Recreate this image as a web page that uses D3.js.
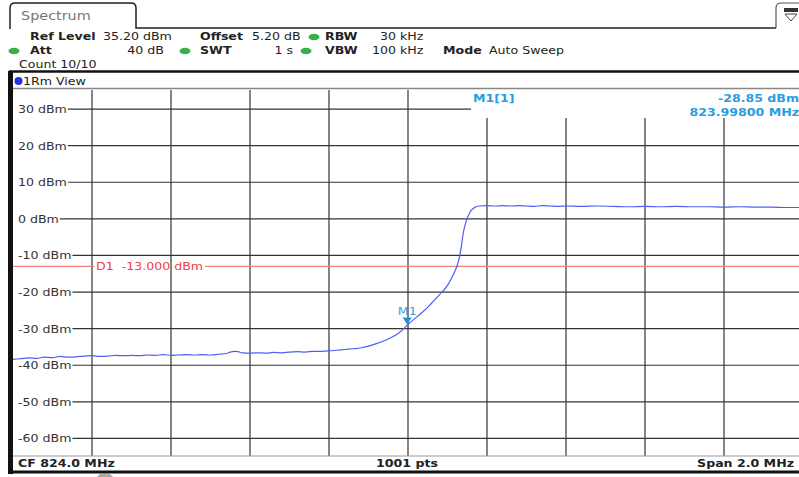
<!DOCTYPE html>
<html><head><meta charset="utf-8">
<script src="https://cdn.jsdelivr.net/npm/d3@7"></script>
<style>
html,body{margin:0;padding:0;background:#fff;overflow:hidden}
text{font-family:"DejaVu Sans",Verdana,sans-serif;white-space:pre}
</style></head>
<body>
<svg id="c" width="799" height="477"></svg>
<script>
// ---- data ----
const yTicks = [30, 20, 10, 0, -10, -20, -30, -40, -50, -60];
const freqMHz = [823.00,823.02,823.04,823.06,823.08,823.10,823.12,823.14,823.16,823.18,823.20,823.22,823.24,823.26,823.28,823.30,823.32,823.34,823.36,823.38,823.40,823.42,823.44,823.46,823.48,823.50,823.52,823.54,823.55,823.56,823.57,823.58,823.60,823.62,823.64,823.66,823.68,823.70,823.72,823.74,823.76,823.78,823.80,823.82,823.84,823.86,823.88,823.90,823.92,823.94,823.96,823.98,824.00,824.02,824.04,824.06,824.08,824.10,824.11,824.12,824.125,824.13,824.135,824.14,824.145,824.15,824.155,824.16,824.17,824.18,824.20,824.22,824.24,824.26,824.28,824.30,824.32,824.34,824.36,824.38,824.40,824.44,824.48,824.52,824.56,824.60,824.64,824.68,824.72,824.76,824.80,824.84,824.88,824.92,824.96,825.00];
const levelDbm = [-38.4,-38.2,-38.0,-38.1,-37.8,-37.9,-37.6,-37.8,-37.7,-37.5,-37.4,-37.6,-37.5,-37.3,-37.4,-37.3,-37.4,-37.2,-37.3,-37.1,-37.3,-37.2,-37.1,-37.2,-37.1,-37.2,-37.0,-36.8,-36.4,-36.2,-36.3,-36.6,-36.7,-36.6,-36.7,-36.5,-36.6,-36.4,-36.3,-36.4,-36.2,-36.2,-36.1,-35.9,-35.7,-35.5,-35.3,-34.8,-34.1,-33.3,-32.3,-30.9,-28.85,-27.0,-25.2,-23.0,-20.7,-18.2,-16.3,-14.0,-12.6,-10.6,-7.6,-3.8,-1.5,0.2,1.4,2.3,3.2,3.5,3.6,3.5,3.6,3.5,3.6,3.5,3.4,3.6,3.5,3.4,3.5,3.4,3.5,3.4,3.3,3.4,3.3,3.4,3.3,3.3,3.2,3.3,3.2,3.2,3.1,3.1];
const markerFreq = 823.998, markerLevel = -28.85;
const displayLine = -13.0;
const refLevel = 35.2, bottomLevel = -64.8;
const startF = 823.0, stopF = 825.0;

const svg = d3.select("#c");
const x = d3.scaleLinear().domain([startF, stopF]).range([13, 803]);
const y = d3.scaleLinear().domain([bottomLevel, refLevel]).range([456, 90]);
const SX = 1.2; // horizontal stretch of the instrument font

function txt(g, s, px, py, opt={}) {
  const t = g.append("text")
    .attr("transform", `translate(${px},${py}) scale(${SX},1)`)
    .attr("font-size", opt.size || 10.5)
    .attr("font-weight", opt.bold ? "bold" : "normal")
    .attr("fill", opt.fill || "#222")
    .attr("text-anchor", opt.anchor || "start")
    .text(s);
  return t;
}
function dot(cx, cy) {
  svg.append("ellipse").attr("cx", cx).attr("cy", cy).attr("rx", 5.5).attr("ry", 3.2).attr("fill", "#3cb048");
}

// ---- header ----
svg.append("path").attr("d", "M10,29 L10,8 Q10,3 15,3 L131,3 Q136,3 136,8 L136,28 L776,28")
  .attr("fill", "none").attr("stroke", "#222").attr("stroke-width", 1.5);
svg.append("path").attr("d", "M776,28 L776,8 Q776,3 781,3 L800,3")
  .attr("fill", "none").attr("stroke", "#555").attr("stroke-width", 1.2);
txt(svg, "Spectrum", 21, 20, {size: 12, fill: "#777"});
// icon
svg.append("rect").attr("x", 784).attr("y", 8).attr("width", 14).attr("height", 4).attr("fill", "#333");
svg.append("path").attr("d", "M785,14 L797,14 L791,21 Z").attr("fill", "none").attr("stroke", "#445").attr("stroke-width", 1);

txt(svg, "Ref Level", 30, 40, {bold: true});
txt(svg, "35.20 dBm", 103, 40);
txt(svg, "Offset", 200, 40, {bold: true});
txt(svg, "5.20 dB", 252, 40);
dot(314, 37);
txt(svg, "RBW", 325, 40, {bold: true});
txt(svg, "30 kHz", 380, 40);

dot(14, 51);
txt(svg, "Att", 30, 54, {bold: true});
txt(svg, "40 dB", 164, 54, {anchor: "end"});
dot(185, 51);
txt(svg, "SWT", 200, 54, {bold: true});
txt(svg, "1 s", 293, 54, {anchor: "end"});
dot(306, 51);
txt(svg, "VBW", 325, 54, {bold: true});
txt(svg, "100 kHz", 372, 54);
txt(svg, "Mode", 443, 54, {bold: true});
txt(svg, "Auto Sweep", 489, 54);

txt(svg, "Count 10/10", 19, 68);

svg.append("line").attr("x1", 9).attr("x2", 799).attr("y1", 71.5).attr("y2", 71.5).attr("stroke", "#111").attr("stroke-width", 2.5);
svg.append("rect").attr("x", 8).attr("y", 71).attr("width", 5).attr("height", 403).attr("fill", "#111");
svg.append("line").attr("x1", 13).attr("x2", 799).attr("y1", 88.5).attr("y2", 88.5).attr("stroke", "#888").attr("stroke-width", 1.5);
svg.append("circle").attr("cx", 18.5).attr("cy", 81).attr("r", 4).attr("fill", "#2233dd");
txt(svg, "1Rm View", 23, 85, {size: 10.5});

// ---- grid ----
const grid = svg.append("g");
const vTicks = d3.range(1, 10).map(i => startF + i * (stopF - startF) / 10);
grid.selectAll("line.v").data(vTicks).join("line")
  .attr("x1", d => x(d)).attr("x2", d => x(d))
  .attr("y1", d => x(d) > 470 ? 118 : 90).attr("y2", 456)
  .attr("stroke", "#333").attr("stroke-width", 1.2);

// y axis with labels
const yAxisG = svg.append("g");
yTicks.forEach(v => {
  const t = txt(yAxisG, v + " dBm", 18, y(v) + 4, {size: 10.5, fill: "#333"});
  const w = t.node().getComputedTextLength() * SX;
  yAxisG.append("line").attr("x1", 18 + w + 1).attr("x2", v === 30 ? 471 : 803)
    .attr("y1", y(v)).attr("y2", y(v)).attr("stroke", "#333").attr("stroke-width", 1.2);
});
// plot bottom
svg.append("line").attr("x1", 13).attr("x2", 803).attr("y1", 456).attr("y2", 456).attr("stroke", "#999");

// display line D1
const d1y = y(displayLine);
svg.append("line").attr("x1", 13).attr("x2", 94).attr("y1", d1y).attr("y2", d1y).attr("stroke", "#f08080").attr("stroke-width", 1.3);
const d1t = txt(svg, "D1  -13.000 dBm", 96, d1y + 4, {fill: "#f04040", size: 10.5});
const d1w = d1t.node().getComputedTextLength() * SX;
svg.append("line").attr("x1", 96 + d1w + 2).attr("x2", 803).attr("y1", d1y).attr("y2", d1y).attr("stroke", "#f08080").attr("stroke-width", 1.3);

// ---- trace ----
const pts = freqMHz.map((f, i) => [f, levelDbm[i]]);
svg.append("path").datum(pts)
  .attr("d", d3.line().curve(d3.curveMonotoneX).x(d => x(d[0])).y(d => y(d[1])))
  .attr("fill", "none").attr("stroke", "#4f5ff2").attr("stroke-width", 1.2);

// ---- marker ----
const mx = x(markerFreq), my = y(markerLevel);
svg.append("path").attr("d", `M${mx-4.5},${my-7} L${mx+4.5},${my-7} L${mx},${my} Z`).attr("fill", "#1e90d0");
txt(svg, "M1", mx, my - 9, {anchor: "middle", fill: "#3aa0e0", size: 10.5});

// marker readout
txt(svg, "M1[1]", 473, 102, {bold: true, fill: "#2a9de0"});
txt(svg, "-28.85 dBm", 799, 102, {anchor: "end", bold: true, fill: "#2a9de0"});
txt(svg, "823.99800 MHz", 799, 116, {anchor: "end", bold: true, fill: "#2a9de0"});

// ---- footer ----
txt(svg, "CF 824.0 MHz", 18, 467, {bold: true, fill: "#222"});
txt(svg, "1001 pts", 376, 467, {bold: true, fill: "#222"});
txt(svg, "Span 2.0 MHz", 794, 467, {bold: true, fill: "#222", anchor: "end"});
svg.append("line").attr("x1", 8).attr("x2", 799).attr("y1", 472).attr("y2", 472).attr("stroke", "#111").attr("stroke-width", 3);
svg.append("path").attr("d", "M100,474 L110,474 L113,477 L97,477 Z").attr("fill", "#aaa");
</script>
</body></html>
